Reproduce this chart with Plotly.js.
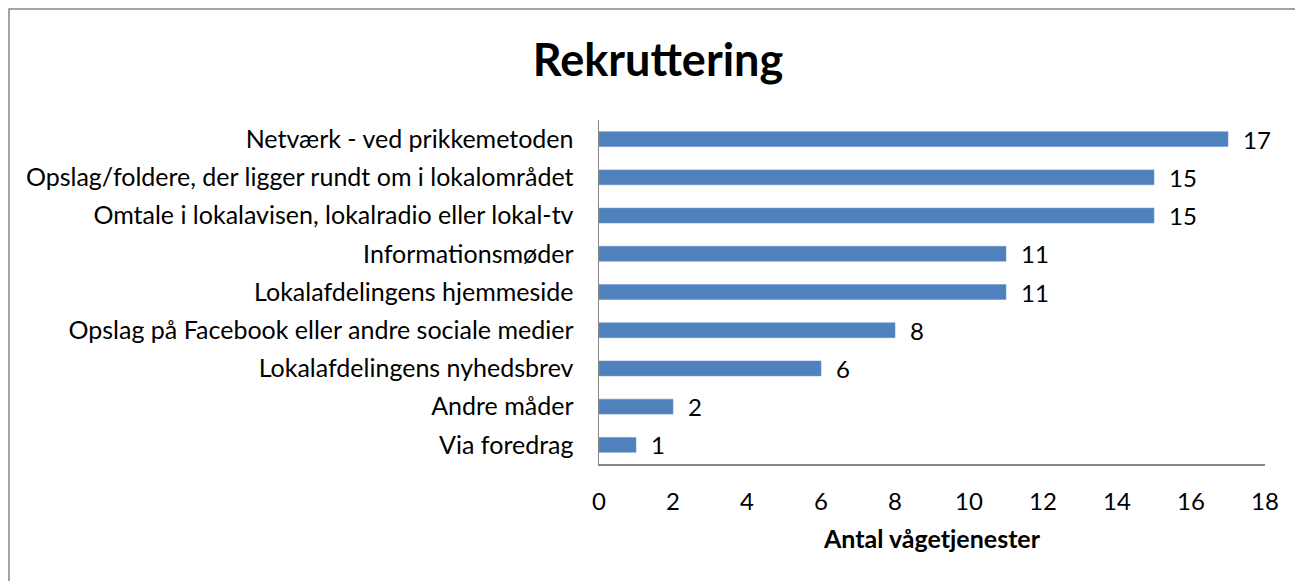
<!DOCTYPE html>
<html><head><meta charset="utf-8">
<script src="https://cdn.plot.ly/plotly-3.0.1.min.js"></script>
<style>html,body{margin:0;padding:0;background:#fff;}#c{width:1295px;height:581px;}</style>
</head><body><div id="c"></div>
<script>
const categories = [
  "Netværk - ved prikkemetoden",
  "Opslag/foldere, der ligger rundt om i lokalområdet",
  "Omtale i lokalavisen, lokalradio eller lokal-tv",
  "Informationsmøder",
  "Lokalafdelingens hjemmeside",
  "Opslag på Facebook eller andre sociale medier",
  "Lokalafdelingens nyhedsbrev",
  "Andre måder",
  "Via foredrag"
];
const values = [17, 15, 15, 11, 11, 8, 6, 2, 1];
const xTicks = [0, 2, 4, 6, 8, 10, 12, 14, 16, 18];

const FONT = "Lato, 'Open Sans', sans-serif";
const trace = {
  type: 'bar', orientation: 'h',
  x: values, y: categories,
  marker: {color: '#4F81BD', line: {color: '#6f97cc', width: 0.6}},
  hoverinfo: 'none'
};
const annotations = values.map((v, i) => ({
  x: v, y: categories[i], xref: 'x', yref: 'y',
  text: String(v), showarrow: false, xanchor: 'left', xshift: 13,
  font: {family: FONT, size: 24, color: '#000'}
}));
const layout = {
  width: 1295, height: 581,
  margin: {l: 599, r: 30, t: 120, b: 117},
  paper_bgcolor: '#fff', plot_bgcolor: '#fff',
  bargap: 0.61,
  showlegend: false,
  title: {text: '<b>Rekruttering</b>', font: {family: FONT, size: 45, color: '#000'},
    xref: 'container', yref: 'container', x: 658/1295, y: 1 - 60/581, xanchor: 'center', yanchor: 'middle'},
  xaxis: {
    range: [0, 18], tickvals: xTicks, ticktext: xTicks.map(String),
    showgrid: false, zeroline: false, showline: true, linecolor: '#868686', linewidth: 1.5,
    ticks: '', ticklabelstandoff: 16,
    tickfont: {family: FONT, size: 24, color: '#000'},
    title: {text: '<b>Antal vågetjenester</b>', font: {family: FONT, size: 25, color: '#000'}, standoff: 16}
  },
  yaxis: {
    autorange: 'reversed', showgrid: false, zeroline: false,
    showline: true, linecolor: '#868686', linewidth: 1.5,
    ticks: '', ticklabelstandoff: 19,
    tickfont: {family: FONT, size: 25, color: '#000'}
  },
  annotations: annotations,
  shapes: [{
    type: 'rect', xref: 'paper', yref: 'paper',
    x0: (9 - 599) / 666, x1: 1.2, y0: -0.6, y1: (464 - 9) / 344,
    line: {color: '#868686', width: 1.5}, fillcolor: 'rgba(0,0,0,0)', layer: 'below'
  }]
};
Plotly.newPlot('c', [trace], layout, {displayModeBar: false, staticPlot: true});
</script></body></html>
